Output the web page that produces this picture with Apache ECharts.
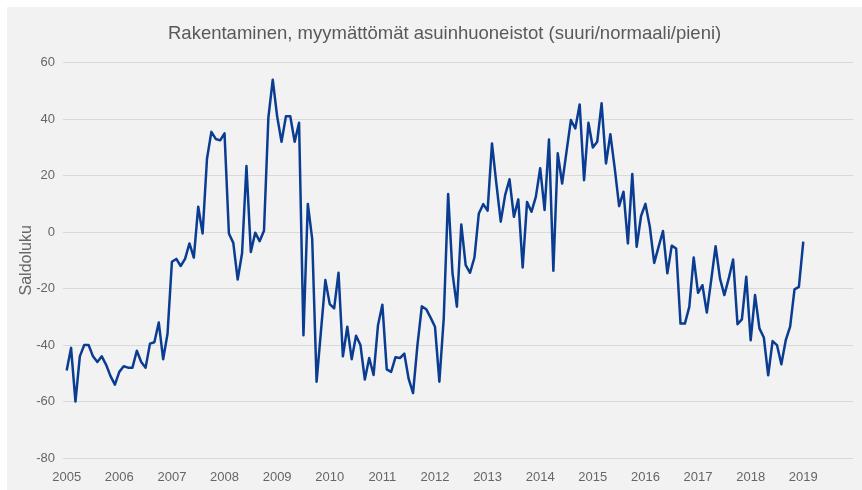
<!DOCTYPE html>
<html>
<head>
<meta charset="utf-8">
<script src="https://cdn.jsdelivr.net/npm/echarts@6/dist/echarts.min.js"></script>
<style>
html,body{margin:0;padding:0;background:#ffffff;}
#chart{position:absolute;left:7px;top:7px;width:855px;height:483px;}
</style>
</head>
<body>
<div id="chart"></div>
<script>
// Monthly balance figures, January 2005 ... January 2019
var startYear = 2005;
var values2005 = [-49, -41, -60, -44, -40, -40, -44, -46, -44, -47, -51, -54];
var values2006 = [-49.5, -47.5, -48, -48, -42, -46, -48, -39.5, -39, -32, -45, -36];
var values2007 = [-10.5, -9.5, -12, -9.5, -4, -9, 9, -0.5, 26, 35.5, 33, 32.5];
var values2008 = [35, -0.5, -3.8, -16.8, -7.5, 23.4, -7, -0.2, -3.2, 0.5, 40.5, 54];
var values2009 = [41, 32, 41, 41, 32, 38.7, -36.5, 10, -2.5, -53, -35, -17];
var values2010 = [-25.5, -27, -14.4, -44, -33.5, -45, -36.7, -40, -52.2, -44.6, -50.6, -33];
var values2011 = [-25.7, -48.6, -49.5, -44.3, -44.6, -43, -52, -57, -40, -26.3, -27.3, -30.3];
var values2012 = [-33.5, -53, -30.5, 13.5, -14.6, -26.4, 2.7, -11.7, -14.4, -9, 6.6, 9.9];
var values2013 = [7.6, 31.4, 17.2, 3.7, 13.1, 18.7, 5.4, 11.6, -12.5, 10.7, 7.2, 12.5];
var values2014 = [22.6, 7.8, 32.8, -13.7, 27.9, 17.2, 28.5, 39.7, 36.7, 45.2, 18.4, 38.7];
var values2015 = [30, 32, 45.6, 24.3, 34.7, 22.6, 9.2, 14.3, -4, 20.6, -5.2, 5.7];
var values2016 = [10, 1.9, -10.9, -5.2, 0.4, -14.6, -4.8, -5.8, -32.4, -32.4, -26.5, -9];
var values2017 = [-21.5, -18.8, -28.5, -17, -5, -16.4, -22.3, -16.4, -9.7, -32.6, -30.9, -15.8];
var values2018 = [-38.3, -22.3, -34.1, -37.3, -50.7, -38.6, -40, -46.8, -38.3, -33.5, -20.3, -19.4];
var values2019 = [-3.4];

var yearLabels = [2005, 2006, 2007, 2008, 2009, 2010, 2011, 2012, 2013, 2014, 2015, 2016, 2017, 2018, 2019];
var yTicks = [-80, -60, -40, -20, 0, 20, 40, 60];

var titleText = 'Rakentaminen, myymättömät asuinhuoneistot (suuri/normaali/pieni)';
var yAxisName = 'Saldoluku';

var allValues = [].concat(values2005, values2006, values2007, values2008, values2009,
  values2010, values2011, values2012, values2013, values2014, values2015, values2016,
  values2017, values2018, values2019);
var seriesData = allValues.map(function (v, i) { return [startYear + i / 12, v]; });

var FONT = '"Liberation Sans", Arial, sans-serif';
var chart = echarts.init(document.getElementById('chart'));
chart.setOption({
  backgroundColor: '#f2f2f2',
  animation: false,
  title: {
    text: titleText,
    left: 156,
    top: 12,
    textStyle: {
      fontFamily: FONT,
      fontSize: 18.5,
      fontWeight: 'normal',
      color: '#595959'
    }
  },
  grid: { left: 56, right: 9, top: 55.7, bottom: 32, outerBoundsMode: 'none', containLabel: false },
  xAxis: {
    type: 'value',
    min: 2004.93,
    max: 2019.945,
    axisLine: { show: false },
    axisTick: { show: false },
    splitLine: { show: false },
    axisLabel: {
      customValues: yearLabels,
      margin: 13,
      color: '#666666',
      fontSize: 13,
      fontFamily: FONT,
      formatter: function (v) { return String(Math.round(v)); }
    }
  },
  yAxis: {
    type: 'value',
    min: yTicks[0],
    max: yTicks[yTicks.length - 1],
    interval: 20,
    name: yAxisName,
    nameLocation: 'middle',
    nameGap: 28,
    nameRotate: 90,
    nameMoveOverlap: false,
    nameTextStyle: {
      color: '#666666',
      fontSize: 16,
      fontFamily: FONT
    },
    axisLine: { show: false },
    axisTick: { show: false },
    axisLabel: {
      margin: 8,
      color: '#666666',
      fontSize: 13,
      fontFamily: FONT
    },
    splitLine: { lineStyle: { color: '#d9d9d9', width: 1 } }
  },
  series: [{
    type: 'line',
    data: seriesData,
    showSymbol: false,
    symbol: 'none',
    lineStyle: { color: '#0a3d91', width: 2.5, join: 'round' },
    itemStyle: { color: '#0a3d91' }
  }]
});
</script>
</body>
</html>
